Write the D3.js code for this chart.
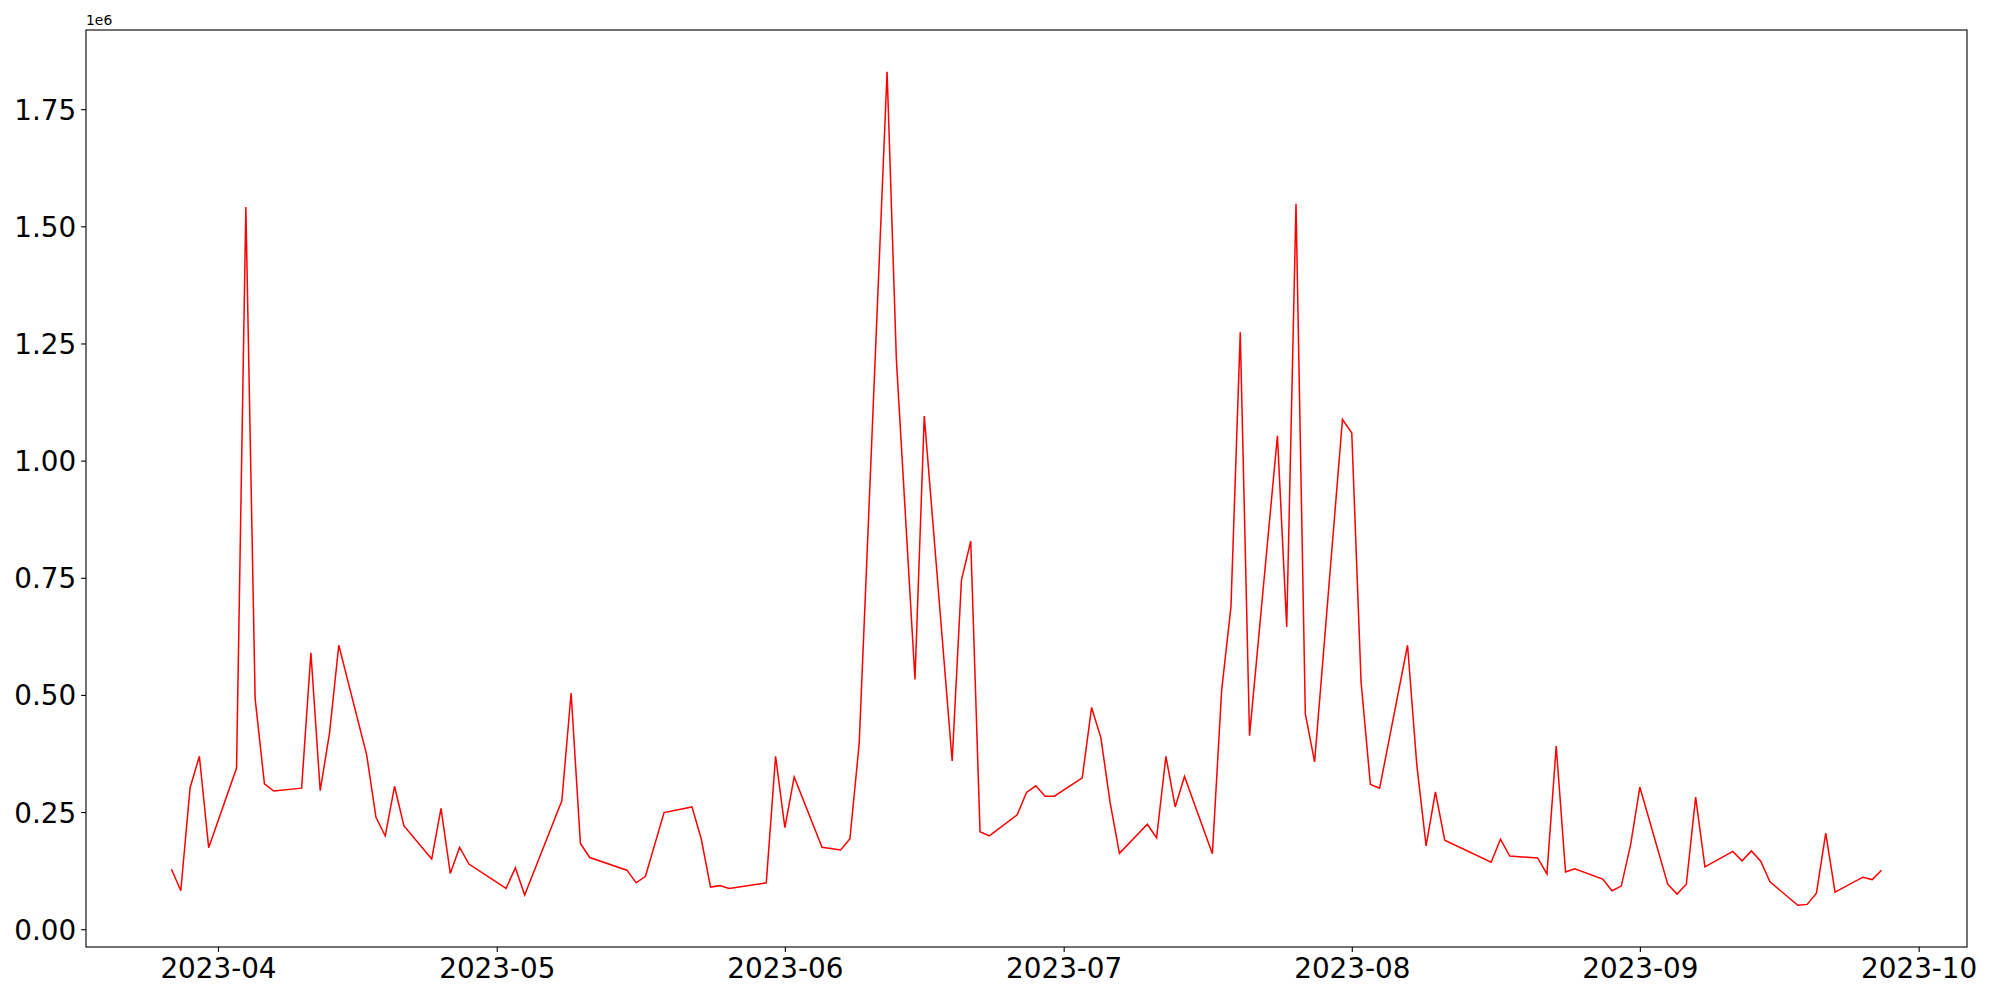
<!DOCTYPE html>
<html>
<head>
<meta charset="utf-8">
<script src="https://cdn.jsdelivr.net/npm/d3@7"></script>
<style>
  html, body { margin: 0; padding: 0; background: #fff; }
  svg { display: block; font-family: "DejaVu Sans", sans-serif; }
</style>
</head>
<body>
<div id="chart"></div>
<script>
// daily values, in units of 1e6
const dates = [
  "2023-03-27","2023-03-28","2023-03-29","2023-03-30","2023-03-31","2023-04-03","2023-04-04","2023-04-05","2023-04-06","2023-04-07",
  "2023-04-10","2023-04-11","2023-04-12","2023-04-13","2023-04-14","2023-04-17","2023-04-18","2023-04-19","2023-04-20","2023-04-21",
  "2023-04-24","2023-04-25","2023-04-26","2023-04-27","2023-04-28","2023-05-02","2023-05-03","2023-05-04","2023-05-08","2023-05-09",
  "2023-05-10","2023-05-11","2023-05-15","2023-05-16","2023-05-17","2023-05-19","2023-05-22","2023-05-23","2023-05-24","2023-05-25",
  "2023-05-26","2023-05-30","2023-05-31","2023-06-01","2023-06-02","2023-06-05","2023-06-07","2023-06-08","2023-06-09","2023-06-12",
  "2023-06-13","2023-06-15","2023-06-16","2023-06-19","2023-06-20","2023-06-21","2023-06-22","2023-06-23","2023-06-26","2023-06-27",
  "2023-06-28","2023-06-29","2023-06-30","2023-07-03","2023-07-04","2023-07-05","2023-07-06","2023-07-07","2023-07-10","2023-07-11",
  "2023-07-12","2023-07-13","2023-07-14","2023-07-17","2023-07-18","2023-07-19","2023-07-20","2023-07-21","2023-07-24","2023-07-25",
  "2023-07-26","2023-07-27","2023-07-28","2023-07-31","2023-08-01","2023-08-02","2023-08-03","2023-08-04","2023-08-07","2023-08-08",
  "2023-08-09","2023-08-10","2023-08-11","2023-08-16","2023-08-17","2023-08-18","2023-08-21","2023-08-22","2023-08-23","2023-08-24",
  "2023-08-25","2023-08-28","2023-08-29","2023-08-30","2023-08-31","2023-09-01","2023-09-04","2023-09-05","2023-09-06","2023-09-07",
  "2023-09-08","2023-09-11","2023-09-12","2023-09-13","2023-09-14","2023-09-15","2023-09-18","2023-09-19","2023-09-20","2023-09-21",
  "2023-09-22","2023-09-25","2023-09-26","2023-09-27"
];
const values = [
  0.128, 0.082, 0.302, 0.369, 0.174, 0.344, 1.541, 0.492, 0.310, 0.295,
  0.301, 0.590, 0.296, 0.418, 0.606, 0.372, 0.239, 0.199, 0.305, 0.221,
  0.150, 0.258, 0.119, 0.175, 0.139, 0.087, 0.131, 0.073, 0.274, 0.504,
  0.183, 0.153, 0.126, 0.099, 0.113, 0.249, 0.261, 0.193, 0.090, 0.093,
  0.087, 0.099, 0.369, 0.217, 0.325, 0.175, 0.169, 0.193, 0.397, 1.830,
  1.215, 0.533, 1.095, 0.359, 0.745, 0.828, 0.208, 0.199, 0.244, 0.292,
  0.306, 0.284, 0.284, 0.323, 0.473, 0.409, 0.270, 0.162, 0.224, 0.195,
  0.369, 0.261, 0.326, 0.161, 0.510, 0.688, 1.274, 0.413, 1.053, 0.645,
  1.548, 0.460, 0.357, 1.088, 1.059, 0.528, 0.309, 0.301, 0.606, 0.350,
  0.178, 0.293, 0.190, 0.143, 0.192, 0.156, 0.152, 0.118, 0.391, 0.122,
  0.129, 0.107, 0.082, 0.092, 0.180, 0.303, 0.096, 0.075, 0.096, 0.282,
  0.133, 0.166, 0.146, 0.167, 0.145, 0.101, 0.051, 0.053, 0.077, 0.205,
  0.079, 0.111, 0.106, 0.126
];
const yTicks = [0, 0.25, 0.5, 0.75, 1.0, 1.25, 1.5, 1.75];
const xTickLabels = ["2023-04","2023-05","2023-06","2023-07","2023-08","2023-09","2023-10"];

const W = 2000, H = 1000;
const margin = {top: 30, right: 33, bottom: 53, left: 86};
const width = W - margin.left - margin.right;
const height = H - margin.top - margin.bottom;

const parse = d3.utcParse('%Y-%m-%d');
const data = dates.map((d, i) => ({date: parse(d), value: values[i]}));

// matplotlib-like 5% padding on both axes
const [t0, t1] = d3.extent(data, d => +d.date);
const tPad = (t1 - t0) * 0.05;
const [v0, v1] = d3.extent(data, d => d.value);
const vPad = (v1 - v0) * 0.05;

const x = d3.scaleUtc().domain([new Date(t0 - tPad), new Date(t1 + tPad)]).range([0, width]);
const y = d3.scaleLinear().domain([v0 - vPad, v1 + vPad]).range([height, 0]);

const svg = d3.select('#chart').append('svg').attr('width', W).attr('height', H);
const g = svg.append('g').attr('transform', `translate(${margin.left},${margin.top})`);

g.append('path').datum(data)
  .attr('fill', 'none')
  .attr('stroke', '#ff0000')
  .attr('stroke-width', 1.5)
  .attr('stroke-linejoin', 'miter')
  .attr('d', d3.line().x(d => x(d.date)).y(d => y(d.value)));

const xAxis = d3.axisBottom(x)
  .tickValues(xTickLabels.map(s => d3.utcParse('%Y-%m')(s)))
  .tickFormat(d3.utcFormat('%Y-%m'))
  .tickSize(4.9).tickPadding(4.9);
const yAxis = d3.axisLeft(y)
  .tickValues(yTicks)
  .tickFormat(d3.format('.2f'))
  .tickSize(4.9).tickPadding(4.9);

const gx = g.append('g').attr('transform', `translate(0,${height})`).call(xAxis);
const gy = g.append('g').call(yAxis);
[gx, gy].forEach(a => {
  a.select('.domain').remove();
  a.selectAll('.tick line').attr('stroke', '#000').attr('stroke-width', 1.1);
  a.selectAll('.tick text').attr('fill', '#000').style('font-size', '27.8px').style('font-family', '"DejaVu Sans", sans-serif');
});
gx.selectAll('.tick text').attr('dy', '0.76em');
gy.selectAll('.tick text').attr('dy', '0.36em');

// frame
g.append('rect').attr('width', width).attr('height', height)
  .attr('fill', 'none').attr('stroke', '#000').attr('stroke-width', 1.1);

// offset text
g.append('text').attr('x', 0).attr('y', -5)
  .style('font-size', '13.9px').attr('fill', '#000').text('1e6');
</script>
</body>
</html>
